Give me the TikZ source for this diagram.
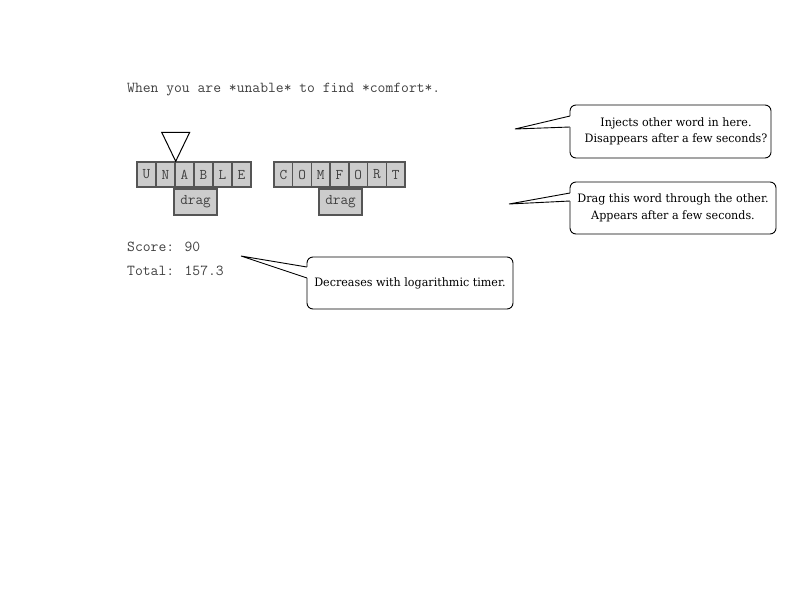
\documentclass[tikz,border=0pt]{standalone}
\usepackage{fontspec}
\setmainfont{DejaVu Serif}[FakeStretch=0.96]
\usetikzlibrary{positioning,calc}
\definecolor{tilec}{RGB}{204,204,204}
\definecolor{edgec}{RGB}{85,85,85}
\definecolor{monoc}{RGB}{64,64,64}

\begin{document}
\begin{tikzpicture}[x=1pt,y=-1pt]
\tikzstyle{tile}=[draw=edgec,fill=tilec,line width=1.4pt,minimum height=25pt,inner sep=0pt,text=monoc,font=\ttfamily\fontsize{14.8}{14.8}\selectfont];
\tikzstyle{mono}=[anchor=base west,inner sep=0pt,text=monoc,font=\ttfamily\fontsize{15.2}{15.2}\selectfont];
\tikzstyle{bubble}=[draw,fill=white,rounded corners=6pt,line width=0.9pt,outer sep=0pt];
\tikzstyle{note}=[align=center,inner sep=0pt,font=\fontsize{11.6}{16.5}\selectfont];

\useasboundingbox (0,0) rectangle (800,600);

\begin{scope}
        \node[mono] (sent) at (127,92) {When you are *unable* to find *comfort*.};

        % the two words
        \foreach \l [count=\i] in {U,N,A,B,L,E}
          \node[tile,minimum width=19pt] (u\i) at (127.5+19*\i,174.5) {\l};
        \foreach \l [count=\i] in {C,O,M,F,O,R,T}
          \node[tile,minimum width=18.7pt] (c\i) at (264.7+18.7*\i,174.5) {\l};

        \node[tile,minimum width=43pt,minimum height=26pt] (ud) at (195.5,202) {drag};
        \node[tile,minimum width=43pt,minimum height=26pt] (cd) at (340.5,202) {drag};

        % insert marker
        \coordinate (ins) at (u2.north east);
        \draw[line width=1pt] (ins) -- ++(-14,-29) -- ++(28,0) -- cycle;

        \node[mono] (score) at (127,251) {Score: 90};
        \node[mono] (total) at (127,275) {Total: 157.3};
\end{scope}

\begin{scope}
        \coordinate (p1) at (515,129);
        \coordinate (p2) at (509,204);
        \coordinate (p3) at (241,256);

        \node[bubble,minimum width=201pt,minimum height=53pt] (b1) at (670.5,131.5) {};
        \node[bubble,minimum width=206pt,minimum height=52pt] (b2) at (673,208) {};
        \node[bubble,minimum width=206pt,minimum height=52pt] (b3) at (410,283) {};

        \foreach \b/\p/\u/\v in {b1/p1/11/22,b2/p2/11/19,b3/p3/10/21}{
          \fill[white] ($(\b.north west)+(1,\u)$) -- (\p) -- ($(\b.north west)+(1,\v)$) -- cycle;
          \draw[line width=0.9pt] ($(\b.north west)+(0,\u)$) -- (\p) -- ($(\b.north west)+(0,\v)$);
        }

        \node[note] (n1) at (676,131.5) {Injects other word in here.\\Disappears after a few seconds?};
        \node[note] (n2) at (673,208) {Drag this word through the other.\\Appears after a few seconds.};
        \node[note] (n3) at (410,283) {Decreases with logarithmic timer.};
\end{scope}

\end{tikzpicture}
\end{document}
